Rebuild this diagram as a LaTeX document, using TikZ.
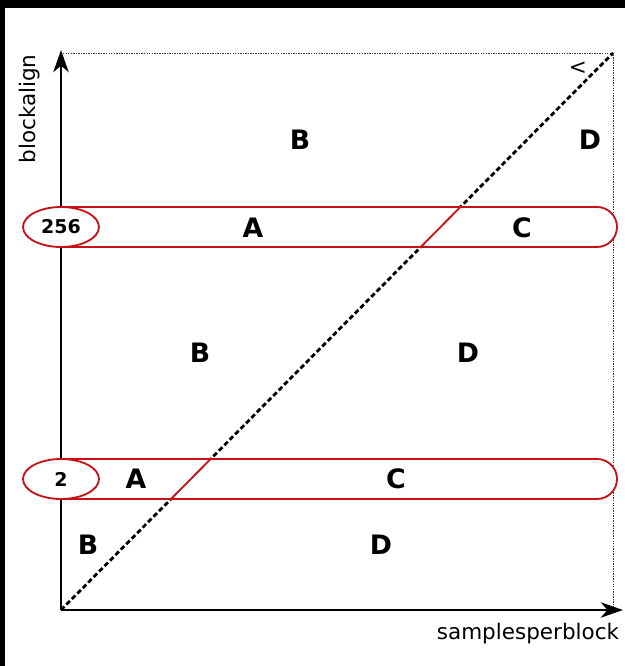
\documentclass[tikz,border=0pt]{standalone}
\usepackage{fontspec}
\setmainfont{DejaVu Sans}
\usepackage{xcolor}
\usepackage{tikz}
\usetikzlibrary{arrows.meta,positioning,calc,shapes.geometric,shapes.misc}

\definecolor{bandred}{RGB}{200,16,22}

\begin{document}
\begin{tikzpicture}[
  axis/.style={line width=2.1pt, -{Stealth[length=5.5mm,width=3.8mm,inset=1.6mm]}},
  frame/.style={line width=0.6pt, dash pattern=on 1pt off 0.8pt, black!80},
  diag/.style={line width=2pt, dash pattern=on 3.5pt off 2pt},
  band/.style={draw=bandred, line width=1.3pt, fill=white, rounded rectangle, rounded rectangle left arc=none,
    minimum width=13.9cm, minimum height=1cm, inner sep=0pt, outer sep=0pt, anchor=west},
  val/.style={draw=bandred, line width=1.3pt, fill=white, ellipse, minimum width=1.9cm, minimum height=1cm,
    inner sep=0pt, font=\fontsize{13.5}{15}\selectfont\bfseries},
  region/.style={font=\fontsize{19}{22}\selectfont\bfseries},
  lab/.style={font=\fontsize{15.3}{18}\selectfont}
]
% black edge of the screenshot
\fill[black] (-1.525,-1.4) rectangle (14.1,15.25);
\fill[white] (-1.4,-1.4) rectangle (14.1,15.05);
\useasboundingbox (-1.525,-1.4) rectangle (14.1,15.25);

\coordinate (origin) at (0,0);
\coordinate (xend) at (14.05,0);
\coordinate (yend) at (0,14.0);
\coordinate (topleft) at (0.05,13.925);
\coordinate (corner) at (13.8,13.925);
\coordinate (bottomright) at (13.8,0.05);

% limits
\draw[frame] (topleft) -- (corner) -- (bottomright);
\draw[diag] (origin) -- (corner);
\node[lab] (less) at (12.925,13.55) {<};

% axes
\draw[axis] (origin) -- (xend);
\draw[axis] (origin) -- (yend);
\node[lab, rotate=90] (ylab) at (-0.775,12.525) {blockalign};
\node[lab] (xlab) at (11.675,-0.6) {samplesperblock};

% bands
\node[band] (band256) at (0,9.575) {};
\node[band] (band2) at (0,3.275) {};
\begin{scope}
  \clip (band256.south west) rectangle (band256.north east);
  \draw[bandred, line width=1.3pt] (origin) -- (corner);
\end{scope}
\begin{scope}
  \clip (band2.south west) rectangle (band2.north east);
  \draw[bandred, line width=1.3pt] (origin) -- (corner);
\end{scope}
\node[val] (v256) at (0,9.575) {256};
\node[val] (v2) at (0,3.275) {2};

% regions
\node[region] (b1) at (5.975,11.75) {B};
\node[region] (d1) at (13.225,11.75) {D};
\node[region] (a1) at (4.8,9.55) {A};
\node[region] (c1) at (11.525,9.55) {C};
\node[region] (b2) at (3.475,6.425) {B};
\node[region] (d2) at (10.175,6.425) {D};
\node[region] (a2) at (1.875,3.275) {A};
\node[region] (c2) at (8.375,3.275) {C};
\node[region] (b3) at (0.675,1.625) {B};
\node[region] (d3) at (8.0,1.625) {D};
\end{tikzpicture}
\end{document}
